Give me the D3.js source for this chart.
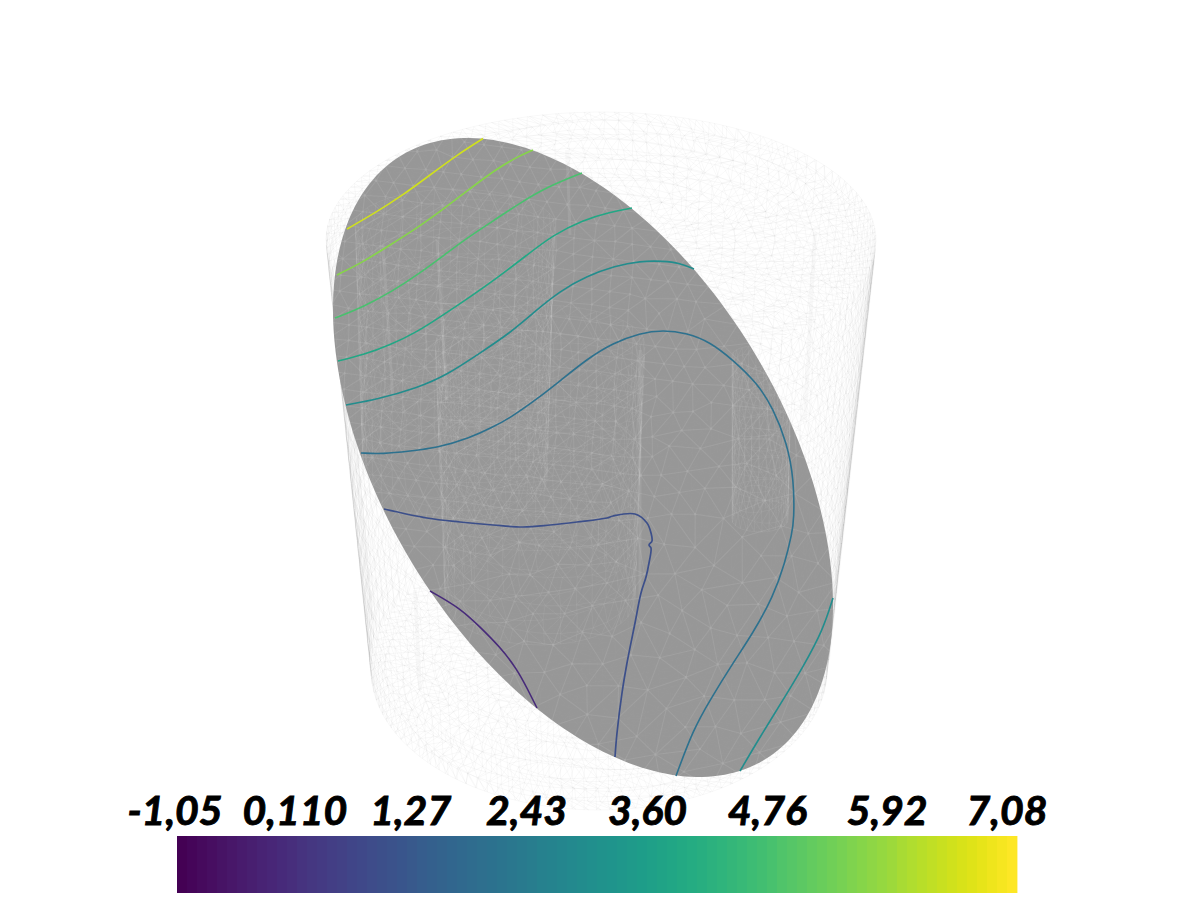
<!DOCTYPE html>
<html><head><meta charset="utf-8">
<script src="https://cdn.jsdelivr.net/npm/d3@7"></script>
<style>html,body{margin:0;background:#fff}svg{display:block}</style></head>
<body><svg id="c" width="1200" height="903"></svg>
<script>
// Colour bar
const tickValues=[-1.05,0.11,1.27,2.43,3.60,4.76,5.92,7.08];
const tickLabels=["-1,05","0,110","1,27","2,43","3,60","4,76","5,92","7,08"];
// Contour level values and traced iso-lines, in plane units
const levelYellow=6.5, levelGreen=5.6, levelSea=4.7, levelTeal=3.8, levelSteel=2.9, levelBlue=1.95, levelIndigo=0.9, levelPurple=-0.08;
const lineYellow=[[34.7,22.9],[37.5,21.3],[40.3,19.5],[43,17.5],[45.7,15.5],[48.3,13.85]];
const lineGreen=[[33.7,27.5],[36.3,26.2],[39,24.5],[41.7,22.8],[44.2,21],[46.7,19.1],[49.5,17],[51.5,15.8],[53.3,15]];
const lineSea=[[33.5,31.8],[36.3,30.7],[39.3,29.1],[42,27.3],[44.3,25.6],[46.7,23.8],[49.3,22.1],[52,20.3],[54.7,18.7],[58.2,17.3]];
const lineTeal=[[33.8,36.1],[36.3,35.5],[39,34.5],[41.7,33.2],[44.3,31.5],[47,29.7],[49.7,27.8],[52.7,25.5],[55.3,23.5],[58.3,22],[61,21.2],[63.2,20.8]];
const lineSteelUpper=[[34.6,40.5],[37.8,39.9],[41.7,38.8],[44.7,37.5],[48,35.3],[51,33.3],[53.3,31.3],[56,29.1],[58.7,27.6],[61.5,26.6],[64,26.1],[66.3,26.1],[68,26.3],[69.4,26.9]];
const lineSteelLower=[[83.3,59.8],[82.3,63],[80.3,66.7],[78.3,70],[76,73.7],[74,77.1]];
const lineBlue=[[36.1,45.3],[38.3,45.4],[41,45.1],[43.7,44.8],[47,43.8],[49.3,42.7],[51,41.8],[53.7,39.9],[56,38.1],[58.7,35.9],[61.3,34.3],[64,33.3],[66.3,33],[68.7,33.3],[71,34.2],[73.3,36],[75.7,38.3],[77.3,40.8],[78.7,44.3],[79.4,48],[79.4,52],[79.2,53.3],[78.5,56.3],[77.3,59.7],[75.3,63.3],[73.3,66.3],[71,70],[69.3,73],[67.6,77.6]];
const lineIndigo=[[38.4,50.9],[42.7,51.8],[46,52.2],[49.3,52.5],[52.3,52.7],[55,52.5],[57.7,52.2],[60.7,51.8],[61.3,51.6],[63.5,51.4],[64.7,52.3],[65.1,53.3],[65.2,54.1],[64.9,54.5],[65.1,54.8],[64.9,56.3],[64.6,57.7],[64.1,59.3],[63.5,62.3],[62.7,66.3],[62.2,69.3],[61.7,73.3],[61.5,75.7]];
const linePurple=[[43,59.1],[46,60.8],[48,62.7],[50,64.7],[51.7,66.9],[52.8,69],[53.7,70.8]];
// Streaks left by inner tubes: x1,y1,x2,y2 in plane units
const streaksFront=[[38.3,24.5,39.3,40],[43.7,24,44.7,40],[56.7,15,57,23.5],[64,35,64,60]];
const streaksBack=[[81.5,23.2,80.5,42],[41.5,59,42,69],[33.9,27,37.2,62],[87.3,26,82.8,66]];

const xS=d3.scaleLinear().domain([0,120]).range([0,1200]);
const yS=d3.scaleLinear().domain([0,90.3]).range([0,903]);
const barS=d3.scaleLinear().domain([-1.05,7.08]).range([177,1017]);
const colorT=d3.scaleLinear().domain([-1.05,7.08]).range([0,1]);
const col=v=>d3.interpolateViridis(colorT(v));
const svg=d3.select("#c");
const smooth=d3.line().x(d=>xS(d[0])).y(d=>yS(d[1])).curve(d3.curveBasis);
const jagged=d3.line().x(d=>xS(d[0])).y(d=>yS(d[1])).curve(d3.curveCatmullRom.alpha(.5));

function jit(i,j,s){return Math.sin(i*12.9898+j*78.233+s)*0.5;}
// Wireframe of a cylinder surface
function cylinderMesh(rt,rb,yt,yb,ryt,ryb,cxT,cxB,nT,nH,withCaps){
  const p=d3.path();
  const P=(th,h)=>{const R=rt+(rb-rt)*h,yc=yt+(yb-yt)*h,ry=ryt+(ryb-ryt)*h,cx=cxT+(cxB-cxT)*h;return [cx+R*Math.cos(th),yc+ry*Math.sin(th)];};
  const seg=(a,b)=>{p.moveTo(a[0],a[1]);p.lineTo(b[0],b[1]);};
  const side=(i,j)=>{
    const edge=(j===0||j===nH);
    const th=(i+(j%2?0.5:0)+jit(i,j,1)*0.55)/nT*2*Math.PI, h=Math.max(0,Math.min(1,(j+(edge?0:jit(i,j,2)*0.55))/nH));
    return P(th,h);};
  for(let j=0;j<=nH;j++)for(let i=0;i<nT;i++){
    const a=side(i,j);
    const th=(i+.5)/nT*2*Math.PI;
    const skipRim=(j===0&&Math.sin(th)>0)||(j===nH&&Math.sin(th)<0);
    if(!skipRim)seg(a,side(i+1,j));
    if(j<nH){const o=j%2?1:0;seg(a,side(i+o,j+1));seg(a,side(i+o-1,j+1));}
  }
  if(withCaps){
    [0,1].forEach(h=>{
      const rings=14;
      const Q=(k,i)=>{const r=k/rings,n=Math.max(1,Math.round(nT*r));const th=(i+(k%2?.5:0)+jit(i,k,3)*.4)/n*2*Math.PI;const R=rt+(rb-rt)*h,yc=yt+(yb-yt)*h,ry=ryt+(ryb-ryt)*h;const rr=Math.min(1,r+jit(i,k,4)*(k===rings?0:.025));return [(cxT+(cxB-cxT)*h)+R*rr*Math.cos(th),yc+ry*rr*Math.sin(th)];};
      for(let k=1;k<=rings;k++){const n=Math.max(1,Math.round(nT*k/rings));const m=Math.max(1,Math.round(nT*(k-1)/rings));
        for(let i=0;i<n;i++){const a=Q(k,i);
          if(k<rings)seg(a,Q(k,i+1));
          seg(a,Q(k-1,Math.round(i*m/n)));seg(a,Q(k-1,Math.round(i*m/n)+1));}
      }
    });
  }
  return p.toString();
}
const outer=cylinderMesh(275,228,240,670,128,140,601,599,120,42,true);
const innerA=cylinderMesh(105,95,345,600,40,45,540,540,36,20,false);
const innerB=cylinderMesh(30,28,355,520,10,12,762,760,24,16,false);
const innerC=cylinderMesh(100,92,225,480,36,42,455,455,36,20,false);

// Slice's own triangulation: finer towards the upper left, coarser lower right
const cells=[];
for(let gy=130;gy<790;gy+=9)for(let gx=325;gx<845;gx+=9){
  const i=Math.round(gx/9),j=Math.round(gy/9);
  const x=gx+(j%2?4.5:0)+jit(i,j,5)*7,y=gy+jit(i,j,6)*7;
  const d=Math.hypot(x-470,y-330),t=Math.max(0,Math.min(1,(d-170)/170));
  const s=15+11*t;
  if(!cells.some(c=>Math.hypot(c[0]-x,c[1]-y)<s))cells.push([x,y]);
}
const tri=d3.Delaunay.from(cells);

// Ellipse of the cutting plane
const eCx=58.3,eCy=45.75,eA=25,eB=14.8,eC=28.32;
const sliceOutline=d3.range(240).map(k=>{const t=k/240*2*Math.PI;return [eCx+eA*Math.cos(t),eCy+eB*Math.cos(t)+eC*Math.sin(t)];});

svg.append("path").attr("d",outer).attr("fill","none").attr("stroke","#000").attr("stroke-opacity",.033).attr("stroke-width",.9);
svg.selectAll("line.sb").data(streaksBack.concat(streaksFront)).join("line").attr("x1",d=>xS(d[0])).attr("y1",d=>yS(d[1])).attr("x2",d=>xS(d[2])).attr("y2",d=>yS(d[3])).attr("stroke","#000").attr("stroke-opacity",.025).attr("stroke-width",4);

const outlineGen=d3.line().x(d=>xS(d[0])).y(d=>yS(d[1])).curve(d3.curveLinearClosed);
svg.append("defs").append("clipPath").attr("id","sl").append("path").attr("d",outlineGen(sliceOutline));
svg.append("path").attr("d",outlineGen(sliceOutline)).attr("fill","#979797");
const g=svg.append("g").attr("clip-path","url(#sl)");
g.append("path").attr("d",outer).attr("fill","none").attr("stroke","#fff").attr("stroke-opacity",.02).attr("stroke-width",.9);
g.append("path").attr("d",tri.render()).attr("fill","none").attr("stroke","#fff").attr("stroke-opacity",.085).attr("stroke-width",1.1);
g.append("path").attr("d",tri.renderPoints(null,1.2)).attr("fill","#fff").attr("fill-opacity",.1);
[innerA,innerB,innerC].forEach(d=>g.append("path").attr("d",d).attr("fill","none").attr("stroke","#fff").attr("stroke-opacity",.06).attr("stroke-width",1));
g.selectAll("line.st").data(streaksFront).join("line").attr("x1",d=>xS(d[0])).attr("y1",d=>yS(d[1])).attr("x2",d=>xS(d[2])).attr("y2",d=>yS(d[3])).attr("stroke","#fff").attr("stroke-opacity",.09).attr("stroke-width",3);

// Contours
[[lineYellow,levelYellow],[lineGreen,levelGreen],[lineSea,levelSea],[lineTeal,levelTeal],[lineSteelUpper,levelSteel],[lineSteelLower,levelSteel],[lineBlue,levelBlue],[linePurple,levelPurple]].forEach(([pts,v])=>{
  svg.append("path").attr("d",smooth(pts)).attr("fill","none").attr("stroke",col(v)).attr("stroke-width",1.6);
});
svg.append("path").attr("d",jagged(lineIndigo)).attr("fill","none").attr("stroke",col(levelIndigo)).attr("stroke-width",1.7);

// Colour bar
const bands=d3.range(84);
svg.selectAll("rect.b").data(bands).join("rect").attr("x",d=>177+d*10).attr("y",836).attr("width",10.4).attr("height",57)
  .attr("fill",d=>d3.interpolateViridis(d/83));
const tickOff=[-2,-2,-6,-10,-10,-10,-10,-10];
svg.selectAll("text.t").data(tickValues).join("text").attr("x",(d,i)=>barS(d)+tickOff[i]).attr("y",825).attr("text-anchor","middle")
  .attr("font-family","Lato").attr("font-weight",700).attr("font-style","italic").attr("font-size",41)
  .attr("stroke","#000").attr("stroke-width",.9).attr("fill","#000").text((d,i)=>tickLabels[i]);
</script></body></html>
